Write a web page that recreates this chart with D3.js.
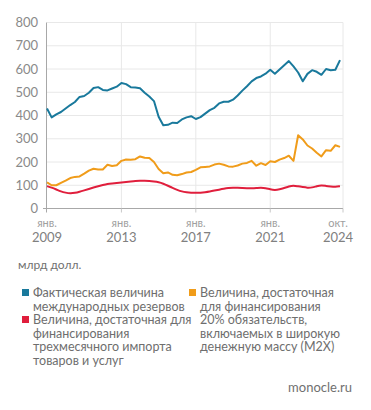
<!DOCTYPE html>
<html>
<head>
<meta charset="utf-8">
<script src="https://cdn.jsdelivr.net/npm/d3@7"></script>
<style>
  html, body { margin: 0; padding: 0; background: #fff; }
  svg { display: block; font-family: Lato, "Open Sans", sans-serif; }
</style>
</head>
<body>
<svg id="chart" width="371" height="410"></svg>
<script>
// квартальные точки, янв. 2009 – окт. 2024
const startYear = 2009;
const reserves = [430, 392, 405, 415, 430, 445, 458, 480, 484, 498, 518, 522, 510, 508, 516, 524,
  540, 535, 522, 520, 517, 498, 482, 462, 395, 358, 360, 369, 368, 383, 392, 397,
  385, 393, 408, 423, 433, 452, 459, 459, 468, 486, 507, 526, 547, 561, 568, 580,
  597, 580, 598, 616, 634, 611, 585, 547, 579, 595, 588, 575, 600, 595, 597, 638];
const m2x = [112, 100, 100, 110, 120, 131, 136, 138, 150, 163, 171, 168, 168, 188, 183, 186,
  205, 211, 210, 212, 224, 218, 217, 200, 170, 152, 155, 145, 143, 148, 155, 157,
  166, 177, 179, 181, 189, 193, 188, 181, 180, 185, 193, 196, 205, 184, 195, 187,
  203, 200, 210, 217, 227, 205, 315, 297, 271, 258, 240, 224, 251, 248, 272, 265];
const imports3m = [96, 90, 82, 73, 68, 65, 67, 72, 78, 84, 90, 96, 101, 106, 108, 110,
  112, 114, 116, 118, 119, 119, 118, 116, 113, 107, 98, 88, 80, 73, 70, 68,
  67, 68, 70, 73, 77, 81, 85, 88, 89, 89, 88, 87, 87, 88, 90, 88,
  82, 79, 82, 88, 95, 100, 95, 92, 89, 90, 96, 100, 97, 95, 93, 96];

const yTicks = [0, 100, 200, 300, 400, 500, 600, 700, 800];
const xTicks = [[2009, 'янв.', '2009'], [2013, 'янв.', '2013'], [2017, 'янв.', '2017'],
  [2021, 'янв.', '2021'], [2024.75, 'окт.', '2024']];

const colors = { reserves: '#19799c', m2x: '#f09c1a', imports: '#e01e3c' };

const legendLeft = [
  { color: colors.reserves, lines: ['Фактическая величина', 'международных резервов'] },
  { color: colors.imports, lines: ['Величина, достаточная для', 'финансирования', 'трехмесячного импорта', 'товаров и услуг'] }
];
const legendRight = [
  { color: colors.m2x, lines: ['Величина, достаточная', 'для финансирования', '20% обязательств,', 'включаемых в широкую', 'денежную массу (М2Х)'] }
];

const svg = d3.select('#chart');
const margin = { left: 47, right: 28, top: 22, bottom: 202 };

const x = d3.scaleLinear().domain([2009, 2024.75]).range([47, 340]);
const y = d3.scaleLinear().domain([0, 800]).range([208.5, 22.5]);

// сетка
svg.append('g')
  .selectAll('line')
  .data(yTicks.filter(d => d > 0))
  .join('line')
  .attr('x1', 47).attr('x2', 343)
  .attr('y1', d => y(d)).attr('y2', d => y(d))
  .attr('stroke', '#e8e8e8').attr('stroke-width', 1);

svg.append('g')
  .selectAll('line')
  .data([2013, 2017, 2021])
  .join('line')
  .attr('x1', d => x(d)).attr('x2', d => x(d))
  .attr('y1', y(800)).attr('y2', y(0))
  .attr('stroke', '#e8e8e8');
svg.append('line')
  .attr('x1', 343).attr('x2', 343)
  .attr('y1', y(800)).attr('y2', y(0))
  .attr('stroke', '#e8e8e8');

// оси
svg.append('line')
  .attr('x1', 46.5).attr('x2', 46.5)
  .attr('y1', y(800)).attr('y2', y(0) + 4)
  .attr('stroke', '#a8a8a8');
svg.append('line')
  .attr('x1', 43).attr('x2', 343)
  .attr('y1', y(0)).attr('y2', y(0))
  .attr('stroke', '#a8a8a8');
svg.append('g')
  .selectAll('line')
  .data([2013, 2017, 2021, 2024.75])
  .join('line')
  .attr('x1', d => d === 2024.75 ? 343 : x(d)).attr('x2', d => d === 2024.75 ? 343 : x(d))
  .attr('y1', y(0)).attr('y2', y(0) + 4)
  .attr('stroke', '#c8c8c8');

svg.append('g')
  .selectAll('text')
  .data(yTicks)
  .join('text')
  .attr('x', 38).attr('y', d => y(d) + 4.5)
  .attr('text-anchor', 'end')
  .attr('font-size', 13)
  .attr('fill', '#8a8a8a')
  .text(d => d);

const xl = svg.append('g')
  .selectAll('g')
  .data(xTicks)
  .join('g')
  .attr('transform', d => `translate(${d[0] === 2024.75 ? 338 : x(d[0])},0)`);
xl.append('text')
  .attr('y', 227).attr('text-anchor', 'middle')
  .attr('font-size', 11).attr('fill', '#a0a0a0')
  .text(d => d[1]);
xl.append('text')
  .attr('y', 242).attr('text-anchor', 'middle')
  .attr('font-size', 13).attr('fill', '#808080')
  .text(d => d[2]);

// линии
const line = d3.line()
  .x((d, i) => x(startYear + i / 4))
  .y(d => y(d));

[[imports3m, colors.imports, d3.curveBasis], [m2x, colors.m2x, d3.curveLinear], [reserves, colors.reserves, d3.curveLinear]]
  .forEach(([data, color, curve]) => {
    svg.append('path')
      .datum(data)
      .attr('d', line.curve(curve))
      .attr('fill', 'none')
      .attr('stroke', color)
      .attr('stroke-width', 2)
      .attr('stroke-linejoin', 'round');
  });

svg.append('text')
  .attr('x', 18).attr('y', 269)
  .attr('font-size', 12).attr('fill', '#707070')
  .text('млрд долл.');

// легенда
function drawLegend(items, x0, y0) {
  let yy = y0;
  items.forEach(item => {
    svg.append('rect')
      .attr('x', x0).attr('y', yy - 8)
      .attr('width', 7).attr('height', 7)
      .attr('fill', item.color);
    item.lines.forEach((t, j) => {
      svg.append('text')
        .attr('x', x0 + 11).attr('y', yy + j * 13.5)
        .attr('font-size', 12.5).attr('fill', '#6e6e6e')
        .text(t);
    });
    yy += item.lines.length * 13.5;
  });
}
drawLegend(legendLeft, 22, 297);
drawLegend(legendRight, 189, 297);

svg.append('text')
  .attr('x', 352).attr('y', 392)
  .attr('text-anchor', 'end')
  .attr('font-size', 13).attr('fill', '#707070')
  .text('monocle.ru');
</script>
</body>
</html>
